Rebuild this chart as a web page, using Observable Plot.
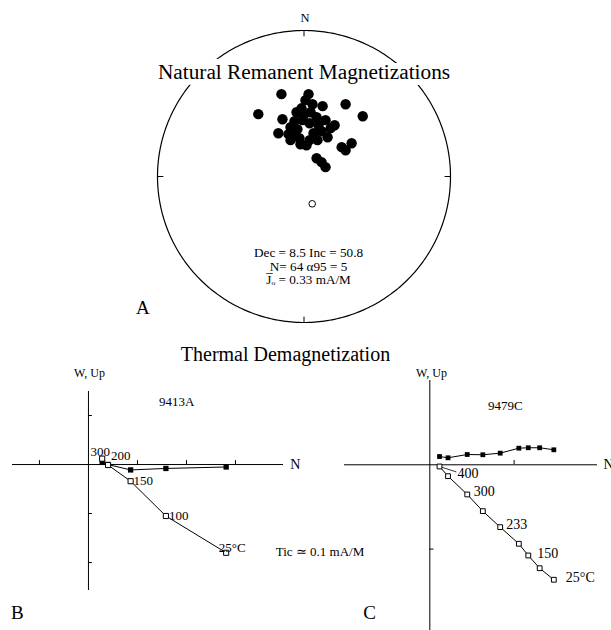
<!DOCTYPE html>
<html><head><meta charset="utf-8">
<script src="https://cdn.jsdelivr.net/npm/d3@7"></script>
<script src="https://cdn.jsdelivr.net/npm/@observablehq/plot@0.6"></script>
<style>
html,body{margin:0;padding:0;background:#fff;}
#fig{position:relative;width:611px;height:630px;overflow:hidden;}
#fig > svg{position:absolute;}
</style></head><body><div id="fig"></div>
<script>
// ---------- Panel A: natural remanent magnetizations (equal-area net, unit radius; N up, E right)
const nrmX = [-0.154, -0.312, -0.147, -0.175, 0.031, 0.010, 0.127, 0.284, 0.401, 0.209, 0.161, 0.257, 0.325, 0.284, 0.017, 0.086, 0.120, 0.147, -0.092, -0.072, -0.051, -0.017, 0.045, 0.086, -0.065, -0.010, 0.038, 0.099, 0.147, -0.045, 0.065, 0.120, -0.031, 0.038, 0.092, -0.092, -0.003, 0.182, 0.058, -0.024, -0.106];
const nrmY = [0.564, 0.427, 0.392, 0.296, 0.564, 0.523, 0.482, 0.495, 0.413, 0.351, 0.269, 0.201, 0.228, 0.180, 0.214, 0.125, 0.098, 0.064, 0.249, 0.276, 0.440, 0.467, 0.440, 0.406, 0.379, 0.386, 0.365, 0.351, 0.386, 0.324, 0.296, 0.310, 0.262, 0.249, 0.249, 0.338, 0.419, 0.331, 0.495, 0.221, 0.290];
const openX = [0.056];
const openY = [-0.187];
const cardinalAz = [0, 90, 180, 270];
const titleA = "Natural Remanent Magnetizations";
const statsLines = ["Dec = 8.5 Inc = 50.8", "N= 64 \u03b195 = 5", "J\u0305\u2092 = 0.33 mA/M"];

// ---------- Panel B: 9413A (mA/M; tick = 0.1 mA/M)
const bTemps = ["300", "200", "150", "100", "25\u00b0C"];
const bNorth = [0.028, 0.040, 0.086, 0.158, 0.281];
const bWest  = [0.005, 0.000, -0.011, -0.008, -0.005];
const bUp    = [0.012, -0.001, -0.034, -0.105, -0.180];
const bTicksX = [-0.1, 0.1, 0.2, 0.3];
const bTicksY = [0.1, -0.1, -0.2];

// ---------- Panel C: 9479C (tick units)
const cTemps = ["400", "", "300", "", "233", "", "150", "", "25\u00b0C"];
const cNorth = [0.115, 0.216, 0.444, 0.629, 0.835, 1.056, 1.168, 1.303, 1.471];
const cWest  = [0.098, 0.083, 0.122, 0.119, 0.138, 0.197, 0.202, 0.202, 0.178];
const cUp    = [-0.020, -0.135, -0.352, -0.550, -0.740, -0.937, -1.076, -1.227, -1.364];
const cTicksX = [1];
const cTicksY = [-1];

const serif = "'Liberation Serif', 'Times New Roman', serif";
const fig = document.getElementById("fig");
const baseStyle = {fontFamily: serif, background: "transparent", overflow: "visible", color: "black"};

// Panel A
const nrm = nrmX.map((x, i) => ({x, y: nrmY[i]}));
const openPt = openX.map((x, i) => ({x, y: openY[i]}));
const circle = d3.range(0, 361, 1).map(a => ({x: Math.sin(a * Math.PI / 180), y: Math.cos(a * Math.PI / 180)}));
const ticksA = cardinalAz.map(a => {
  const s = Math.sin(a * Math.PI / 180), c = Math.cos(a * Math.PI / 180);
  return {x1: 0.96 * s, y1: 0.96 * c, x2: s, y2: c};
});
const plotA = Plot.plot({
  width: 611, height: 330,
  marginLeft: 157, marginRight: 161, marginTop: 30, marginBottom: 8,
  x: {domain: [-1, 1], axis: null},
  y: {domain: [-1, 1], axis: null},
  style: baseStyle,
  marks: [
    Plot.line(circle, {x: "x", y: "y", stroke: "black", strokeWidth: 1.2}),
    Plot.link(ticksA, {x1: "x1", y1: "y1", x2: "x2", y2: "y2", stroke: "black", strokeWidth: 1}),
    Plot.text([titleA], {x: 0, y: 0.717, text: d => d, fontSize: 21.3, fill: "black", stroke: "white", strokeWidth: 12}),
    Plot.dot(nrm, {x: "x", y: "y", r: 5.2, fill: "black"}),
    Plot.dot(openPt, {x: "x", y: "y", r: 3.3, fill: "white", stroke: "black", strokeWidth: 1}),
    Plot.text(["N"], {x: 0.007, y: 1.089, text: d => d, fontSize: 12.5, fill: "black"}),
    Plot.text([statsLines.join("\n")], {x: 0.031, y: -0.616, text: d => d, fontSize: 13.2, lineHeight: 1.0, fill: "black"}),
    Plot.text(["A"], {x: -1.10, y: -0.90, text: d => d, fontSize: 19, fill: "black"})
  ]
});
plotA.style.left = "0px"; plotA.style.top = "0px";
fig.appendChild(plotA);

// Panel B
const bData = bNorth.map((n, i) => ({n, w: bWest[i], up: bUp[i], t: bTemps[i]}));
const bLabelLayout = [
  {dx: -2, dy: -7, anchor: "middle"},
  {dx: 3, dy: -9, anchor: "start"},
  {dx: 3, dy: 0, anchor: "start"},
  {dx: 3, dy: 0, anchor: "start"},
  {dx: 6, dy: -5, anchor: "middle"}
];
const plotB = Plot.plot({
  width: 320, height: 300,
  marginLeft: 12, marginRight: 37, marginTop: 61, marginBottom: 40,
  x: {domain: [-0.155, 0.398], axis: null},
  y: {domain: [-0.257, 0.149], axis: null},
  style: baseStyle,
  marks: [
    Plot.ruleY([0], {stroke: "black", strokeWidth: 1}),
    Plot.ruleX([0], {stroke: "black", strokeWidth: 1}),
    Plot.ruleX(bTicksX, {x: d => d, y1: 0, y2: 0.008, stroke: "black"}),
    Plot.ruleY(bTicksY, {y: d => d, x1: 0, x2: 0.008, stroke: "black"}),
    Plot.line(bData, {x: "n", y: "w", stroke: "black", strokeWidth: 1}),
    Plot.line(bData, {x: "n", y: "up", stroke: "black", strokeWidth: 1}),
    Plot.dot(bData, {x: "n", y: "w", symbol: "square", r: 3, fill: "black"}),
    Plot.dot(bData, {x: "n", y: "up", symbol: "square", r: 2.9, fill: "white", stroke: "black", strokeWidth: 1}),
    ...bData.map((d, i) => Plot.text([d], {x: "n", y: "up", text: "t", dx: bLabelLayout[i].dx, dy: bLabelLayout[i].dy, textAnchor: bLabelLayout[i].anchor, fontSize: 13, fill: "black"})),
    Plot.text(["Thermal Demagnetization"], {x: 0.402, y: 0.225, text: d => d, fontSize: 20, fill: "black"}),
    Plot.text(["W, Up"], {x: 0.002, y: 0.186, text: d => d, fontSize: 12, fill: "black"}),
    Plot.text(["9413A"], {x: 0.18, y: 0.127, text: d => d, fontSize: 13, fill: "black"}),
    Plot.text(["N"], {x: 0.412, y: 0, text: d => d, textAnchor: "start", fontSize: 14, fill: "black"}),
    Plot.text(["Tic \u2243 0.1 mA/M"], {x: 0.382, y: -0.178, text: d => d, textAnchor: "start", fontSize: 13, fill: "black"}),
    Plot.text(["B"], {x: -0.145, y: -0.302, text: d => d, fontSize: 19, fill: "black"})
  ]
});
plotB.style.left = "0px"; plotB.style.top = "330px";
fig.appendChild(plotB);

// Panel C
const cData = cNorth.map((n, i) => ({n, w: cWest[i], up: cUp[i], t: cTemps[i]}));
const cLabelLayout = {0: {dx: 18, dy: 7}, 2: {dx: 6.5, dy: -3}, 4: {dx: 6, dy: -3}, 6: {dx: 9, dy: -2}, 8: {dx: 12, dy: -2}};
const leader = [{x1: cData[0].n, y1: cData[0].up, x2: cData[0].n + 0.2, y2: cData[0].up - 0.065}];
const plotC = Plot.plot({
  width: 291, height: 300,
  marginLeft: 24, marginRight: 14, marginTop: 50, marginBottom: 0,
  x: {domain: [-1.012, 1.989], axis: null},
  y: {domain: [-1.966, 1.0], axis: null},
  style: baseStyle,
  marks: [
    Plot.ruleY([0], {stroke: "black", strokeWidth: 1}),
    Plot.ruleX([0], {stroke: "black", strokeWidth: 1}),
    Plot.ruleX(cTicksX, {x: d => d, y1: 0, y2: 0.05, stroke: "black"}),
    Plot.ruleY(cTicksY, {y: d => d, x1: 0, x2: 0.05, stroke: "black"}),
    Plot.link(leader, {x1: "x1", y1: "y1", x2: "x2", y2: "y2", stroke: "black", strokeWidth: 0.8}),
    Plot.line(cData, {x: "n", y: "w", stroke: "black", strokeWidth: 1}),
    Plot.line(cData, {x: "n", y: "up", stroke: "black", strokeWidth: 1}),
    Plot.dot(cData, {x: "n", y: "w", symbol: "square", r: 2.7, fill: "black"}),
    Plot.dot(cData, {x: "n", y: "up", symbol: "square", r: 2.7, fill: "white", stroke: "black", strokeWidth: 1}),
    ...cData.map((d, i) => [d, i]).filter(([d]) => d.t).map(([d, i]) => Plot.text([d], {x: "n", y: "up", text: "t", dx: cLabelLayout[i].dx, dy: cLabelLayout[i].dy, textAnchor: "start", fontSize: 14, fill: "black"})),
    Plot.text(["W, Up"], {x: 0.02, y: 1.083, text: d => d, fontSize: 12, fill: "black"}),
    Plot.text(["9479C"], {x: 0.897, y: 0.705, text: d => d, fontSize: 13, fill: "black"}),
    Plot.text(["N"], {x: 2.06, y: 0, text: d => d, textAnchor: "start", fontSize: 14, fill: "black"}),
    Plot.text(["C"], {x: -0.715, y: -1.752, text: d => d, fontSize: 19, fill: "black"})
  ]
});
plotC.style.left = "320px"; plotC.style.top = "330px";
fig.appendChild(plotC);
</script>
</body></html>
